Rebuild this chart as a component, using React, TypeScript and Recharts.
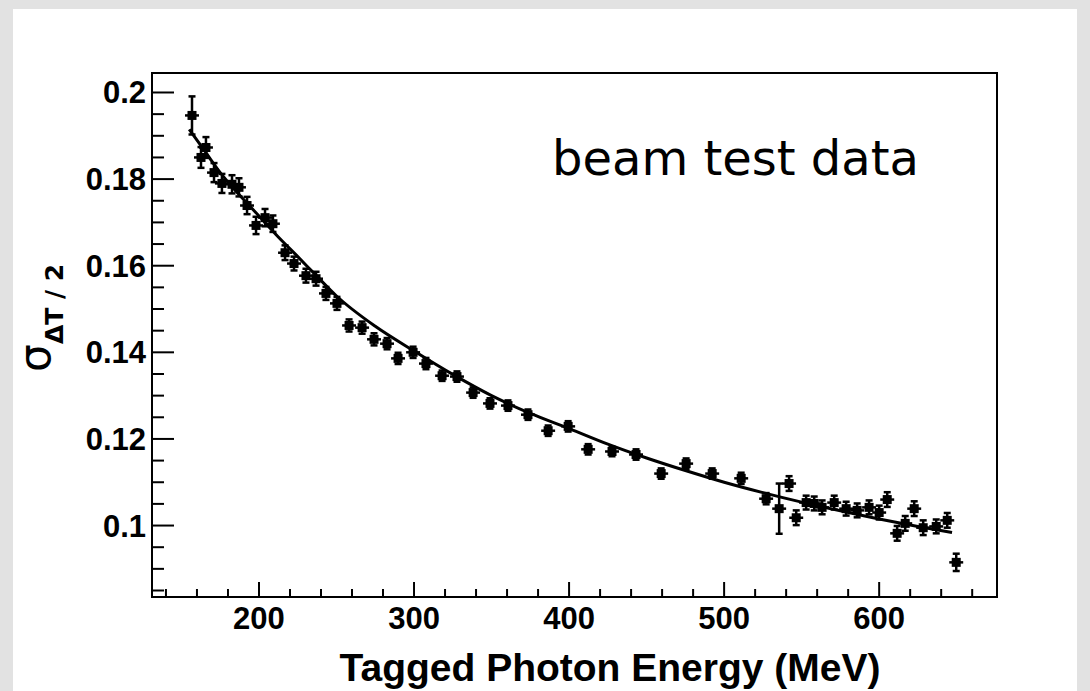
import React from 'react';
import { ComposedChart, Scatter, Line, XAxis, YAxis, ErrorBar, ReferenceArea } from 'recharts';

// measured points: photon energy (MeV), sigma, and its error
const energy = [
  156.8, 162.6, 165.8, 171.0, 176.1, 182.6, 187.1, 192.3, 198.1, 203.9,
  209.0, 216.8, 222.6, 230.3, 236.8, 243.2, 250.3, 258.1, 266.5, 274.2,
  282.6, 289.7, 299.4, 307.7, 318.1, 327.7, 338.1, 349.0, 360.6, 373.5,
  386.5, 399.4, 412.3, 427.7, 443.2, 459.4, 475.5, 492.3, 511.0, 527.1,
  535.5, 541.9, 546.5, 552.9, 558.1, 563.2, 571.0, 578.7, 585.8, 593.5,
  600.0, 605.2, 611.6, 616.8, 622.6, 628.4, 636.8, 643.9, 649.7,
];
const sigma = [
  0.1947, 0.1850, 0.1873, 0.1815, 0.1790, 0.1788, 0.1781, 0.1739, 0.1693, 0.1711,
  0.1697, 0.1630, 0.1605, 0.1577, 0.1570, 0.1536, 0.1513, 0.1462, 0.1457, 0.1430,
  0.1420, 0.1386, 0.1400, 0.1374, 0.1346, 0.1344, 0.1307, 0.1282, 0.1277, 0.1256,
  0.1219, 0.1229, 0.1176, 0.1171, 0.1164, 0.1120, 0.1143, 0.1120, 0.1109, 0.1062,
  0.1039, 0.1097, 0.1018, 0.1053, 0.1051, 0.1042, 0.1053, 0.1039, 0.1035, 0.1042,
  0.1030, 0.1060, 0.0982, 0.1005, 0.1039, 0.0995, 0.0998, 0.1012, 0.0915,
];
const sigmaErr = [
  0.0044, 0.0024, 0.0024, 0.0022, 0.0022, 0.0021, 0.0021, 0.0020, 0.0020, 0.0020,
  0.0019, 0.0017, 0.0016, 0.0016, 0.0016, 0.0015, 0.0015, 0.0014, 0.0014, 0.0014,
  0.0013, 0.0013, 0.0013, 0.0013, 0.0012, 0.0012, 0.0012, 0.0012, 0.0012, 0.0012,
  0.0012, 0.0012, 0.0012, 0.0011, 0.0012, 0.0012, 0.0012, 0.0012, 0.0013, 0.0013,
  0.0058, 0.0017, 0.0017, 0.0016, 0.0016, 0.0016, 0.0016, 0.0016, 0.0016, 0.0016,
  0.0016, 0.0017, 0.0017, 0.0017, 0.0017, 0.0017, 0.0016, 0.0017, 0.0020,
];
const energyErr = 4.5;

// fitted curve
const fitEnergy = [155, 165, 175, 187, 200, 212, 225, 237, 250, 275, 300, 325, 350, 375, 400, 425, 450, 475, 500, 525, 550, 575, 600, 625, 647];
const fitSigma = [
  0.1915, 0.1865, 0.1815, 0.1765, 0.1715, 0.1668, 0.1621, 0.1577, 0.1530, 0.1460,
  0.1403, 0.1349, 0.1300, 0.1259, 0.1224, 0.1188, 0.1156, 0.1127, 0.1100, 0.1076,
  0.1054, 0.1034, 0.1015, 0.0998, 0.0984,
];

const xMajorTicks = [200, 300, 400, 500, 600];
const xMinorTicks = [140, 160, 180, 220, 240, 260, 280, 320, 340, 360, 380, 420, 440, 460, 480, 520, 540, 560, 580, 620, 640, 660];
const yMajorTicks = [0.1, 0.12, 0.14, 0.16, 0.18, 0.2];
const yMinorTicks = [0.085, 0.09, 0.095, 0.105, 0.11, 0.115, 0.125, 0.13, 0.135, 0.145, 0.15, 0.155, 0.165, 0.17, 0.175, 0.185, 0.19, 0.195];

const xDomain: [number, number] = [131, 676];
const yDomain: [number, number] = [0.0835, 0.2045];

const points = energy.map((x, i) => ({ x, y: sigma[i], ey: sigmaErr[i], ex: energyErr }));
const fit = fitEnergy.map((x, i) => ({ x, y: fitSigma[i] }));

const tickFont = { fontFamily: 'Liberation Sans', fontWeight: 'bold' as const, fontSize: 31, fill: '#000' };

const isMajor = (list: number[], v: number) => list.some((t) => Math.abs(t - v) < 1e-6);

const XTick = (props: any) => {
  const { x, y, payload } = props;
  const major = isMajor(xMajorTicks, payload.value);
  return (
    <g>
      <line x1={x} x2={x} y1={y} y2={y - (major ? 15 : 8)} stroke="#000" strokeWidth={2} />
      {major && (
        <text x={x} y={y + 32} textAnchor="middle" {...tickFont}>
          {payload.value}
        </text>
      )}
    </g>
  );
};

const YTick = (props: any) => {
  const { x, y, payload } = props;
  const major = isMajor(yMajorTicks, payload.value);
  return (
    <g>
      <line x1={x} x2={x + (major ? 22 : 12)} y1={y} y2={y} stroke="#000" strokeWidth={2} />
      {major && (
        <text x={x - 6} y={y + 11} textAnchor="end" {...tickFont}>
          {Number(payload.value.toFixed(3)).toString()}
        </text>
      )}
    </g>
  );
};

const Marker = (p: any) => <rect x={p.cx - 4.5} y={p.cy - 4.5} width={9} height={9} fill="#000" />;

const YTitle = () => (
  <text transform="translate(50, 372) rotate(-90)" fill="#000">
    <tspan fontFamily="DejaVu Sans" fontSize={44}>σ</tspan>
    <tspan fontFamily="DejaVu Sans" fontWeight="bold" fontSize={25} dy={13}>ΔT / 2</tspan>
  </text>
);

export default function App() {
  return (
    <div style={{ position: 'absolute', left: 0, top: 0, width: 1090, height: 691, background: '#e2e2e2', overflow: 'hidden' }}>
      <div style={{ position: 'absolute', left: 13, top: 9, width: 1064, height: 682, background: '#fff' }} />
      <div style={{ position: 'absolute', left: 0, top: 0 }}>
        <ComposedChart width={1090} height={691} margin={{ top: 73, right: 93, bottom: 0, left: 0 }}>
          <XAxis
            dataKey="x"
            type="number"
            domain={xDomain}
            allowDataOverflow
            ticks={[...xMinorTicks, ...xMajorTicks].sort((a, b) => a - b)}
            interval={0}
            tickSize={0}
            tickMargin={0}
            tickLine={false}
            axisLine={{ stroke: '#000', strokeWidth: 2 }}
            tick={<XTick />}
            height={94}
          />
          <YAxis
            dataKey="y"
            type="number"
            domain={yDomain}
            allowDataOverflow
            ticks={[...yMinorTicks, ...yMajorTicks].sort((a, b) => a - b)}
            interval={0}
            tickSize={0}
            tickMargin={0}
            tickLine={false}
            axisLine={{ stroke: '#000', strokeWidth: 2 }}
            tick={<YTick />}
            width={152}
            label={{ content: () => <YTitle /> }}
          />
          <ReferenceArea x1={xDomain[0]} x2={xDomain[1]} y1={yDomain[0]} y2={yDomain[1]} fill="none" stroke="#000" strokeWidth={2} />
          <Line data={fit} dataKey="y" type="monotone" stroke="#000" strokeWidth={3} dot={false} isAnimationActive={false} />
          <Scatter data={points} dataKey="y" shape={<Marker />} isAnimationActive={false}>
            <ErrorBar dataKey="ey" direction="y" width={3.5} stroke="#000" strokeWidth={2.5} isAnimationActive={false} />
            <ErrorBar dataKey="ex" direction="x" width={0} stroke="#000" strokeWidth={2.5} isAnimationActive={false} />
          </Scatter>
        </ComposedChart>
      </div>
      <div style={{ position: 'absolute', left: 552, top: 134, fontFamily: 'DejaVu Sans', fontSize: 48, color: '#000', lineHeight: 1 }}>
        beam test data
      </div>
      <div style={{ position: 'absolute', left: 0, width: 1090, top: 648, textAlign: 'center', paddingLeft: 130, boxSizing: 'border-box', fontFamily: 'Liberation Sans', fontWeight: 'bold', fontSize: 39, color: '#000', lineHeight: 1 }}>
        Tagged Photon Energy (MeV)
      </div>
    </div>
  );
}
